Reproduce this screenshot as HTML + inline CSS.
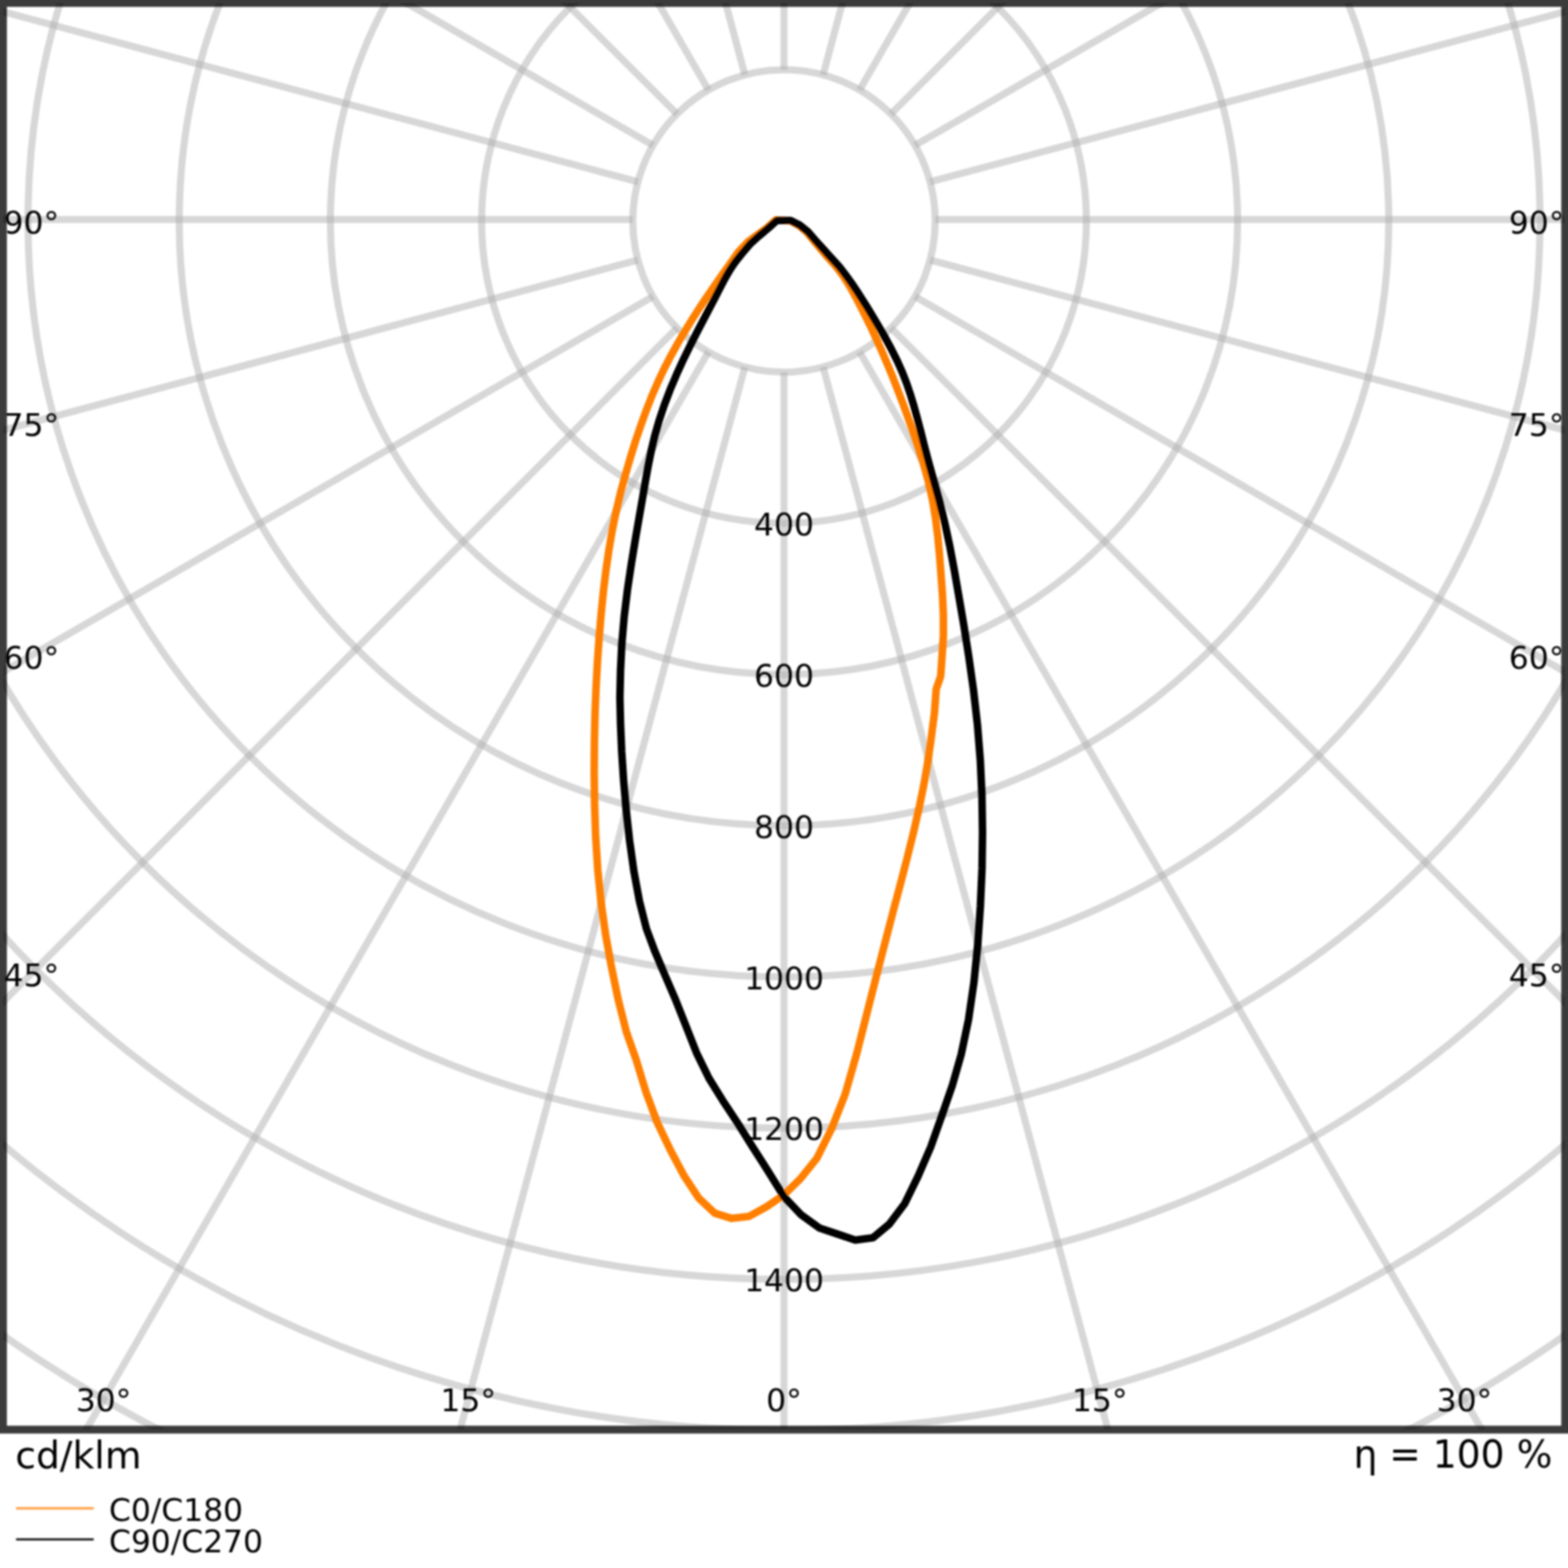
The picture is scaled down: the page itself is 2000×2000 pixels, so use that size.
<!DOCTYPE html>
<html lang="en"><head><meta charset="utf-8"><title>Polar light distribution</title>
<style>html,body{margin:0;padding:0;background:#fff}body{width:2000px;height:2000px;overflow:hidden;position:relative}svg{display:block;position:absolute;left:-40px;top:-40px}text{font-family:"DejaVu Sans","Liberation Sans",sans-serif;fill:#000}</style></head><body>
<svg width="2080" height="2080" viewBox="-40 -40 2080 2080">
<defs>
<filter id="b" filterUnits="userSpaceOnUse" x="-40" y="-40" width="2080" height="2080"><feGaussianBlur stdDeviation="1.3"/></filter>
<filter id="t" filterUnits="userSpaceOnUse" x="-40" y="-40" width="2080" height="2080"><feGaussianBlur stdDeviation="1.0"/></filter>
<clipPath id="ax"><rect x="3.8" y="3.8" width="1992.6" height="1819.7"/></clipPath>
</defs>
<rect x="-40" y="-40" width="2080" height="2080" fill="#fff"/>
<g clip-path="url(#ax)">
<g fill="none" stroke="rgba(176,176,176,0.5)" stroke-width="9.0" filter="url(#b)">
<circle cx="1000" cy="281.8" r="192.9"/>
<circle cx="1000" cy="281.8" r="385.7"/>
<circle cx="1000" cy="281.8" r="578.6"/>
<circle cx="1000" cy="281.8" r="771.4"/>
<circle cx="1000" cy="281.8" r="964.3"/>
<circle cx="1000" cy="281.8" r="1157.1"/>
<circle cx="1000" cy="281.8" r="1350"/>
<circle cx="1000" cy="281.8" r="1542.9"/>
<circle cx="1000" cy="281.8" r="1735.7"/>
<line x1="1000" y1="474.7" x2="1000" y2="2581.8"/>
<line x1="1049.9" y1="468.1" x2="1595.3" y2="2503.4"/>
<line x1="1096.4" y1="448.8" x2="2150" y2="2273.7"/>
<line x1="1136.4" y1="418.2" x2="2626.3" y2="1908.1"/>
<line x1="1167" y1="378.2" x2="2991.9" y2="1431.8"/>
<line x1="1186.3" y1="331.7" x2="3221.6" y2="877.1"/>
<line x1="1192.9" y1="280" x2="3300" y2="280"/>
<line x1="1186.3" y1="231.9" x2="3221.6" y2="-313.5"/>
<line x1="1167" y1="185.4" x2="2991.9" y2="-868.2"/>
<line x1="1136.4" y1="145.4" x2="2626.3" y2="-1344.5"/>
<line x1="1096.4" y1="114.8" x2="2150" y2="-1710.1"/>
<line x1="1049.9" y1="95.5" x2="1595.3" y2="-1939.8"/>
<line x1="1000" y1="88.9" x2="1000" y2="-2018.2"/>
<line x1="950.1" y1="95.5" x2="404.7" y2="-1939.8"/>
<line x1="903.6" y1="114.8" x2="-150" y2="-1710.1"/>
<line x1="863.6" y1="145.4" x2="-626.3" y2="-1344.5"/>
<line x1="833" y1="185.4" x2="-991.9" y2="-868.2"/>
<line x1="813.7" y1="231.9" x2="-1221.6" y2="-313.5"/>
<line x1="807.1" y1="280" x2="-1300" y2="280"/>
<line x1="813.7" y1="331.7" x2="-1221.6" y2="877.1"/>
<line x1="833" y1="378.2" x2="-991.9" y2="1431.8"/>
<line x1="863.6" y1="418.2" x2="-626.3" y2="1908.1"/>
<line x1="903.6" y1="448.8" x2="-150" y2="2273.7"/>
<line x1="950.1" y1="468.1" x2="404.7" y2="2503.4"/>
</g>
<g filter="url(#t)">
<text transform="translate(1000 683.1) scale(1 0.96)" font-size="40" text-anchor="middle">400</text>
<text transform="translate(1000 876) scale(1 0.96)" font-size="40" text-anchor="middle">600</text>
<text transform="translate(1000 1068.8) scale(1 0.96)" font-size="40" text-anchor="middle">800</text>
<text transform="translate(1000 1261.7) scale(1 0.96)" font-size="40" text-anchor="middle">1000</text>
<text transform="translate(1000 1454.5) scale(1 0.96)" font-size="40" text-anchor="middle">1200</text>
<text transform="translate(1000 1647.4) scale(1 0.96)" font-size="40" text-anchor="middle">1400</text>
<text transform="translate(1000 1800.4) scale(1 0.96)" font-size="40" text-anchor="middle">0°</text>
<text transform="translate(597.2 1800.4) scale(1 0.96)" font-size="40" text-anchor="middle">15°</text>
<text transform="translate(1402.8 1800.4) scale(1 0.96)" font-size="40" text-anchor="middle">15°</text>
<text transform="translate(132.1 1800.4) scale(1 0.96)" font-size="40" text-anchor="middle">30°</text>
<text transform="translate(1867.9 1800.4) scale(1 0.96)" font-size="40" text-anchor="middle">30°</text>
<text transform="translate(40 1258.4) scale(1 0.96)" font-size="40" text-anchor="middle">45°</text>
<text transform="translate(1960 1258.4) scale(1 0.96)" font-size="40" text-anchor="middle">45°</text>
<text transform="translate(40 852.7) scale(1 0.96)" font-size="40" text-anchor="middle">60°</text>
<text transform="translate(1960 852.7) scale(1 0.96)" font-size="40" text-anchor="middle">60°</text>
<text transform="translate(40 555.6) scale(1 0.96)" font-size="40" text-anchor="middle">75°</text>
<text transform="translate(1960 555.6) scale(1 0.96)" font-size="40" text-anchor="middle">75°</text>
<text transform="translate(40 298.4) scale(1 0.96)" font-size="40" text-anchor="middle">90°</text>
<text transform="translate(1960 298.4) scale(1 0.96)" font-size="40" text-anchor="middle">90°</text>
</g>
<g fill="none" stroke-width="9.6" stroke-linejoin="round" stroke-linecap="round" filter="url(#b)">
<path stroke="#ff7f00" d="M989.5 280.6 L978.6 290.4 L965.9 299.6 L954.6 307.8 L942.2 320.8 L930 338 L925.3 344.5 L921.2 350.3 L916.6 356.9 L911.3 364.5 L905.3 373.2 L898.5 383.3 L891 394.7 L882.7 407.6 L873.9 421.9 L864.8 437.4 L855.7 453.8 L846.9 470.8 L838.8 488.1 L831.2 505.7 L824.1 523.9 L817.3 542.8 L810.6 562.5 L804.1 583.5 L797.6 605.8 L791.3 629.1 L785.7 653 L780.8 677.2 L776.6 702 L772.9 727.5 L769.7 753.9 L766.9 781.7 L764.4 811 L762.2 842 L760.4 874.8 L759 909.5 L758.2 946.2 L757.9 984.8 L758.4 1025.4 L759.8 1067.4 L762.5 1109.9 L766.8 1152.2 L772.7 1193.6 L780.1 1234.3 L788.7 1275.7 L798.9 1316.2 L811.4 1351.6 L824 1393.2 L838.4 1432 L854.6 1465.9 L872.1 1499.1 L891 1527.9 L911.5 1547.3 L933.3 1554.1 L955.7 1551.4 L978.1 1539 L1000 1524 L1021.3 1503.1 L1041.8 1477.6 L1060.7 1439.7 L1077.9 1396 L1092.9 1343.4 L1106.1 1291.3 L1118.1 1244 L1129.2 1201 L1139.4 1161.9 L1148.9 1126 L1157.6 1092.4 L1165.5 1060.4 L1172.6 1029.3 L1178.8 998.8 L1184 968.4 L1188.2 938.2 L1191.9 909.6 L1194.1 879.1 L1199.9 862.4 L1201.7 835.9 L1203.3 811.5 L1203.3 784.9 L1202.1 757.8 L1200.2 731.6 L1198.3 707.1 L1196.1 683.8 L1193.3 661.1 L1189.5 638.2 L1184.2 614.1 L1177 588.3 L1168.6 562.4 L1160.2 538.1 L1152.2 516.2 L1144.6 496.3 L1137.5 478.1 L1130.6 461.6 L1124.2 446.6 L1118 432.9 L1112.3 420.4 L1106.8 409.1 L1101.7 398.8 L1097 389.5 L1092.5 381 L1088.3 373.3 L1084.2 366 L1080 359 L1075.5 352.2 L1070.6 345.4 L1064.7 338 L1057.7 330.2 L1055.4 327.9 L1048.1 319.2 L1039.1 308.4 L1029.1 296.2 L1019.2 287.7 L1008.5 281.8Z"/>
<path stroke="#000" d="M990.9 281.2 L979.6 291.4 L967.5 301.5 L957.1 310.9 L946 324 L938.2 333.7 L934.9 338.4 L931.7 343.3 L928.7 348.3 L925.7 353.5 L922.7 359.1 L919.6 365.1 L916.2 371.6 L912.4 379.1 L907.8 387.8 L902.5 398 L896.2 409.9 L888.9 424 L880.7 440.1 L871.9 458.1 L863.1 477.3 L854.7 497.2 L847.1 517.3 L840.5 537.1 L835 556.3 L830.6 575.2 L826.8 594.2 L823.2 614.2 L819.4 636.2 L815.1 660.9 L810.3 688.6 L805.3 719.1 L800.4 751.9 L796.2 786.1 L793.2 820.6 L791.5 854.7 L790.7 889.8 L791.5 923.4 L793 958.7 L795.4 995.2 L798.7 1033.1 L803 1071.9 L808.5 1111.1 L815.6 1149.4 L824.5 1184.6 L835.6 1214.2 L847.8 1243 L860.7 1272.8 L874.2 1306.7 L888.5 1343.1 L904.3 1375.4 L921.6 1403.3 L939.8 1430.8 L958.8 1461.1 L978.9 1492.6 L1000 1526.5 L1022.1 1549.7 L1044.9 1566.2 L1067.7 1573.9 L1090.9 1581.7 L1113.5 1578.7 L1134.5 1561.2 L1153.9 1535.3 L1171.2 1499.8 L1187.1 1463.1 L1201.3 1423.2 L1214.5 1385.2 L1226 1345 L1235.3 1300.8 L1242.2 1253.4 L1247.2 1204.2 L1250.5 1155.5 L1252.6 1107.9 L1253.2 1061.2 L1252.5 1015.2 L1250.4 969.8 L1246.8 924.8 L1241.7 880.1 L1235.6 836.9 L1229.2 796.5 L1222.9 759.9 L1217.2 727.1 L1211.5 696.8 L1205.3 667.9 L1198.3 639.5 L1190.8 612.3 L1184.2 588.3 L1178.9 568.1 L1174.4 550.3 L1170.2 534.2 L1166 518.9 L1161.6 504.3 L1156.7 489.8 L1151.1 475.2 L1144.3 460 L1136.6 444.6 L1128.3 429.4 L1120.1 415.1 L1112.4 402.3 L1105.6 391.1 L1099.4 381.2 L1093.6 372.2 L1088.1 363.9 L1082.7 356.3 L1077.5 349.1 L1072.3 342.4 L1069.1 338.5 L1057.6 325.9 L1050 317.5 L1040.6 307.1 L1030.2 295.2 L1019.9 287 L1008.5 281.2Z"/>
</g>
</g>
<path filter="url(#b)" fill-rule="evenodd" fill="rgba(0,0,0,0.77)" d="M-40 -40H2040V1828.5H-40Z M8.8 8.8H1991.4V1818.5H8.8Z"/>
<g filter="url(#t)">
<text transform="translate(19.5 1872.5) scale(1 1)" font-size="48">cd/klm</text>
<text transform="translate(1980 1872.5) scale(1 1.04)" font-size="48" text-anchor="end">η = 100 %</text>
<text transform="translate(139 1940.4) scale(1 0.96)" font-size="40">C0/C180</text>
<text transform="translate(139 1980.4) scale(1 0.96)" font-size="40">C90/C270</text>
</g>
<g filter="url(#b)">
<line x1="20.5" y1="1923.8" x2="119.5" y2="1923.8" stroke="#ffa24a" stroke-width="3.2"/>
<line x1="20.5" y1="1963.5" x2="119.5" y2="1963.5" stroke="#2a2a2a" stroke-width="3"/>
</g>
</svg></body></html>
